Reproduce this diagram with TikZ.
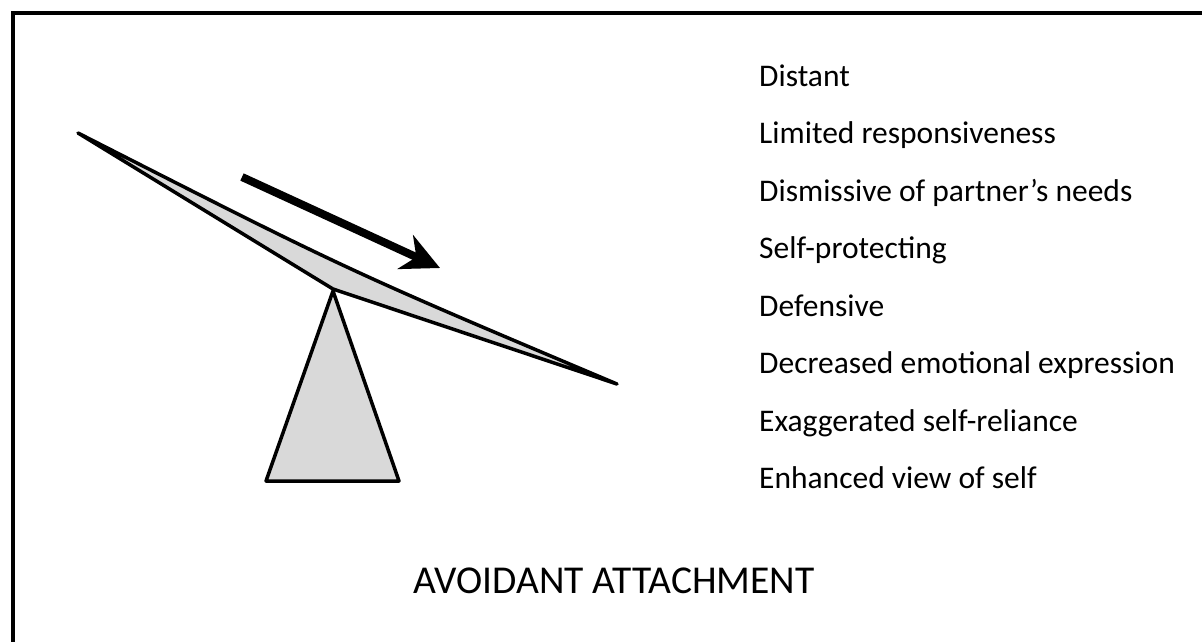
\documentclass[tikz,border=0pt]{standalone}
\usepackage{fontspec}
\setmainfont{Carlito}
\usetikzlibrary{arrows.meta}
\definecolor{seesawgray}{HTML}{D9D9D9}
\tikzset{
  frameline/.style={line width=4pt, draw=black},
  seesawpart/.style={line width=3.5pt, draw=black, fill=seesawgray, line join=round},
  traitlabel/.style={anchor=base west, inner sep=0pt, font=\fontsize{31.5}{38}\selectfont},
  titlelabel/.style={anchor=base, inner sep=0pt, font=\fontsize{39.5}{48}\selectfont},
  tiltarrow/.style={line width=8pt, -{Stealth[length=38pt, width=37pt, inset=12pt]}}
}
\begin{document}
\begin{tikzpicture}[x=1pt, y=-1pt]
  \useasboundingbox (0,0) rectangle (1202,641);
  \clip (0,0) rectangle (1202,641);
  \fill[white] (0,0) rectangle (1202,641);
  % outer frame, running off the right and bottom edges
  \draw[frameline] (13,13) rectangle (1260,700);

  % fulcrum
  \coordinate (apex) at (333,291);
  \coordinate (baseL) at (266,481);
  \coordinate (baseR) at (399,481);
  \draw[seesawpart] (apex) -- (baseR) -- (baseL) -- cycle;

  % tilted beam
  \coordinate (tipL) at (78,133);
  \coordinate (pivot) at (333,289);
  \coordinate (tipR) at (617,384);
  \draw[seesawpart] (tipL) -- (pivot) -- (tipR) .. controls (347,270) .. (tipL) -- cycle;

  % direction of tilt
  \coordinate (arrStart) at (242,177);
  \coordinate (arrEnd) at (440,268);
  \draw[tiltarrow] (arrStart) -- (arrEnd);

  % traits
  \node[traitlabel] (t1) at (759,86)  {Distant};
  \node[traitlabel] (t2) at (759,143) {Limited responsiveness};
  \node[traitlabel] (t3) at (759,201) {Dismissive of partner’s needs};
  \node[traitlabel] (t4) at (759,258) {Self-protecting};
  \node[traitlabel] (t5) at (759,316) {Defensive};
  \node[traitlabel] (t6) at (759,373) {Decreased emotional expression};
  \node[traitlabel] (t7) at (759,431) {Exaggerated self-reliance};
  \node[traitlabel] (t8) at (759,488) {Enhanced view of self};

  \node[titlelabel] (title) at (614,593) {AVOIDANT ATTACHMENT};
\end{tikzpicture}
\end{document}
